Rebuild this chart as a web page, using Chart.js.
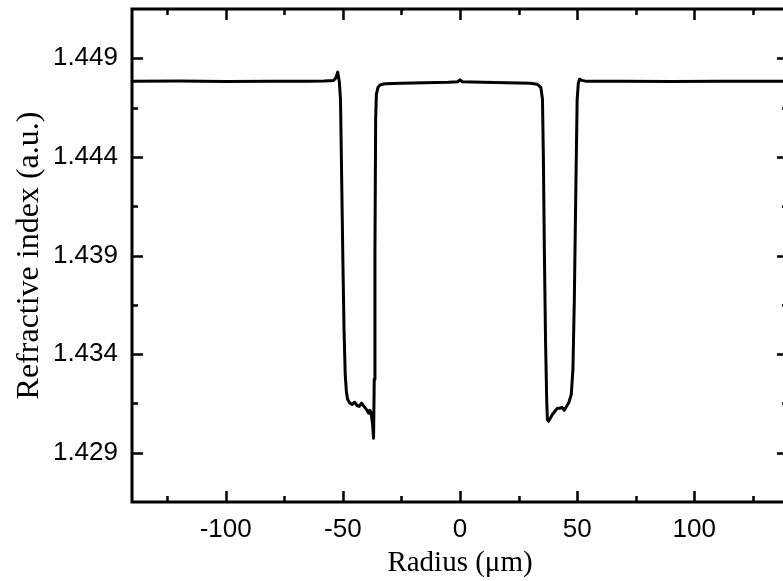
<!DOCTYPE html>
<html>
<head>
<meta charset="utf-8">
<script src="https://cdn.jsdelivr.net/npm/chart.js@4.4.1/dist/chart.umd.min.js"></script>
<style>
  html, body { margin: 0; padding: 0; background: #fff; overflow: hidden; }
  #wrap { position: relative; width: 800px; height: 581px; }
</style>
</head>
<body>
<div id="wrap"><canvas id="c" width="800" height="581"></canvas></div>
<script>
// Refractive-index profile across the fibre (radius in µm)
const radius = [
  -140, -120, -100, -80, -65, -58, -54, -53, -52.2, -51.5, -51, -50.5, -50, -49.5, -49, -48.5,
  -48, -47, -46, -45, -44, -43, -42, -41, -40, -39, -38.5, -38, -37.3, -36.9, -36.6, -36.3,
  -36, -35.7, -35, -34, -32, -25, -15, -5, -1, 0, 1, 10, 20, 30, 33, 34.5,
  35.2, 35.6, 36, 36.5, 37, 37.3, 37.8, 38.5, 39.5, 40.5, 41.5, 42.5, 43.5, 44.5,
  45.5, 46.5, 47.5, 48.2, 48.8, 49.5, 50, 50.5, 51, 52, 54, 70, 90, 110, 130, 140
];
const refIndex = [
  1.44783, 1.44785, 1.44782, 1.44784, 1.44783, 1.44785, 1.44788, 1.4480, 1.4483, 1.4478, 1.4469, 1.44286, 1.43881, 1.43526, 1.43298, 1.43211,
  1.43171, 1.43151, 1.43145, 1.43156, 1.4314, 1.43135, 1.43151, 1.43135, 1.4312, 1.4310, 1.43115, 1.43105, 1.43044, 1.42973, 1.43272, 1.43931,
  1.44591, 1.44717, 1.44753, 1.44766, 1.44771, 1.44773, 1.44776, 1.44778, 1.44781, 1.44791, 1.44781, 1.44778, 1.44776, 1.44773, 1.44768, 1.44753,
  1.44692, 1.44388, 1.43931, 1.43475, 1.43171, 1.43069, 1.43059, 1.43074, 1.43095, 1.4311, 1.43125, 1.43125, 1.4313, 1.43115,
  1.43135, 1.43156, 1.43196, 1.43323, 1.43678, 1.44286, 1.4469, 1.44773, 1.44794, 1.44788, 1.44783, 1.44784, 1.44782, 1.44784, 1.44783, 1.44783
];

// Axis ranges and tick marks
const xRange = [-140, 140];
const yRange = [1.4265, 1.4515];
const xMajorTicks = [-100, -50, 0, 50, 100];
const xMinorTicks = [-125, -75, -25, 25, 75, 125];
const yMajorTicks = [1.429, 1.434, 1.439, 1.444, 1.449];
const yMinorTicks = [1.4315, 1.4365, 1.4415, 1.4465];

const INK = '#000';
const TICK_FONT = { family: '"Liberation Sans", Arial, sans-serif', size: 26 };
const SERIF = '"Liberation Serif", "Times New Roman", serif';

// Frame with inward ticks on all four sides
const framePlugin = {
  id: 'frame',
  afterDraw(chart) {
    const { ctx, chartArea: a, scales } = chart;
    const xs = scales.x, ys = scales.y;
    ctx.save();
    ctx.strokeStyle = INK;
    ctx.lineCap = 'butt';
    ctx.lineWidth = 2.5;
    const mark = (vals, len, horizontal) => {
      vals.forEach(v => {
        if (horizontal) {
          const px = Math.round(xs.getPixelForValue(v)) + 0.5;
          ctx.beginPath();
          ctx.moveTo(px, a.bottom); ctx.lineTo(px, a.bottom - len);
          ctx.moveTo(px, a.top); ctx.lineTo(px, a.top + len);
          ctx.stroke();
        } else {
          const py = Math.round(ys.getPixelForValue(v)) + 0.5;
          ctx.beginPath();
          ctx.moveTo(a.left, py); ctx.lineTo(a.left + len, py);
          ctx.moveTo(a.right, py); ctx.lineTo(a.right - len, py);
          ctx.stroke();
        }
      });
    };
    mark(xMajorTicks, 11, true);
    mark(xMinorTicks, 6, true);
    mark(yMajorTicks, 11, false);
    mark(yMinorTicks, 6, false);
    ctx.lineWidth = 3;
    ctx.strokeRect(a.left, a.top, a.right - a.left, a.bottom - a.top);
    ctx.restore();
  }
};

new Chart(document.getElementById('c'), {
  type: 'scatter',
  data: {
    datasets: [{
      data: radius.map((r, i) => ({ x: r, y: refIndex[i] })),
      showLine: true,
      borderColor: INK,
      borderWidth: 3,
      pointRadius: 0,
      tension: 0,
      borderJoinStyle: 'round'
    }]
  },
  options: {
    responsive: false,
    animation: false,
    events: [],
    layout: { padding: { top: 9, right: 12, left: 0, bottom: 0 } },
    plugins: { legend: { display: false }, tooltip: { enabled: false } },
    scales: {
      x: {
        type: 'linear',
        min: xRange[0], max: xRange[1],
        afterBuildTicks: s => { s.ticks = xMajorTicks.map(v => ({ value: v })); },
        afterFit: s => { s.height = 79; s.paddingLeft = 0; s.paddingRight = 0; },
        grid: { display: false, drawTicks: false },
        border: { display: false },
        ticks: { color: INK, padding: 12, font: TICK_FONT, callback: v => String(v) },
        title: { display: true, text: 'Radius (μm)', color: INK, padding: { top: -3, bottom: 0 }, font: { family: SERIF, size: 29 } }
      },
      y: {
        type: 'linear',
        min: yRange[0], max: yRange[1],
        afterBuildTicks: s => { s.ticks = yMajorTicks.map(v => ({ value: v })); },
        afterFit: s => { s.width = 132; s.paddingTop = 0; s.paddingBottom = 0; },
        grid: { display: false, drawTicks: false },
        border: { display: false },
        ticks: { color: INK, padding: 14, font: TICK_FONT, callback: v => v.toFixed(3) },
        title: { display: true, text: 'Refractive index (a.u.)', color: INK, padding: { top: 10, bottom: 0 }, font: { family: SERIF, size: 32 } }
      }
    }
  },
  plugins: [framePlugin]
});
</script>
</body>
</html>
